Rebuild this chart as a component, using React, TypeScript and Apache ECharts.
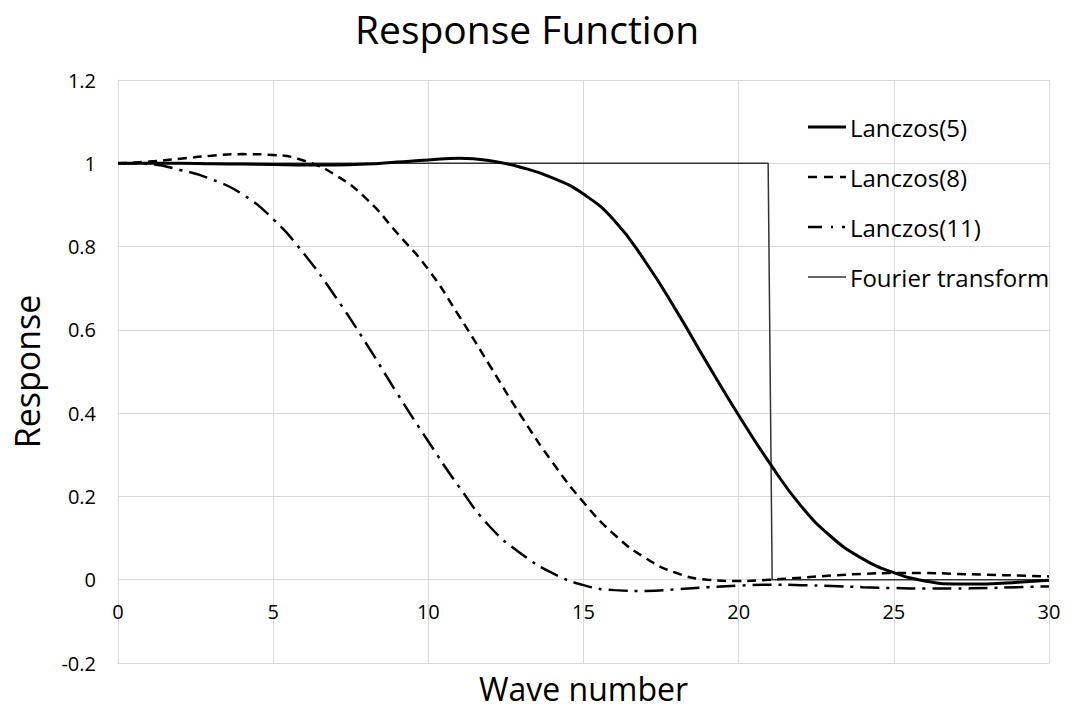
import React, { useEffect, useRef } from "react";
import * as echarts from "echarts";

const titleText = "Response Function";
const xAxisName = "Wave number";
const yAxisName = "Response";

const waveNumbers = [0, 1, 2, 3, 4, 5, 6, 7, 8, 9, 10, 11, 12, 13, 14, 15, 16, 17, 18, 19, 20, 21, 22, 23, 24, 25, 26, 27, 28, 29, 30];

const lanczos5 = [1, 1, 1, 0.999, 0.998, 0.997, 0.996, 0.996, 0.998, 1.003, 1.008, 1.012, 1.006, 0.99, 0.965, 0.926, 0.862, 0.763, 0.645, 0.518, 0.395, 0.28, 0.178, 0.102, 0.05, 0.017, -0.003, -0.01, -0.01, -0.006, -0.001];
const lanczos8 = [1, 1.004, 1.011, 1.018, 1.022, 1.02, 1.006, 0.972, 0.915, 0.832, 0.745, 0.632, 0.512, 0.392, 0.282, 0.186, 0.108, 0.052, 0.016, 0.0, -0.003, 0.0, 0.005, 0.01, 0.014, 0.016, 0.016, 0.014, 0.012, 0.01, 0.008];
const lanczos11 = [1, 0.998, 0.984, 0.962, 0.926, 0.866, 0.782, 0.68, 0.567, 0.447, 0.332, 0.222, 0.126, 0.062, 0.016, -0.013, -0.025, -0.027, -0.023, -0.018, -0.014, -0.012, -0.013, -0.015, -0.018, -0.02, -0.021, -0.021, -0.02, -0.018, -0.016];

const fourierX = [0, 20.95, 21.08, 30];
const fourierY = [1, 1, 0, 0];

const yTicks = [-0.2, 0, 0.2, 0.4, 0.6, 0.8, 1, 1.2];
const xTicks = [0, 5, 10, 15, 20, 25, 30];

const seriesNames = ["Lanczos(5)", "Lanczos(8)", "Lanczos(11)", "Fourier transform"];

const FONT = "Open Sans";

const lineStyles: { color: string; width: number; dash: number[] | null }[] = [
  { color: "#000", width: 3, dash: null },
  { color: "#000", width: 2.5, dash: [9, 6] },
  { color: "#000", width: 2.5, dash: [19, 7, 3, 7] },
  { color: "#333", width: 1.5, dash: null },
];
const legendDash: (number[] | null)[] = [null, [9, 7], [14, 9, 2, 9, 3, 10], null];

function pairs(xs: number[], ys: number[]) {
  return xs.map((x, i) => [x, ys[i]]);
}

export default function App() {
  const ref = useRef<HTMLDivElement>(null);
  useEffect(() => {
    if (!ref.current) return;
    const chart = echarts.init(ref.current, null, { renderer: "svg" });
    const gridColor = "#d9d9d9";

    const legendTop = 127;
    const legendStep = 50;
    const legendElements: any[] = [];
    seriesNames.forEach((name, i) => {
      const y = legendTop + i * legendStep;
      legendElements.push({
        type: "line",
        shape: { x1: 808, y1: y, x2: 846, y2: y },
        style: {
          stroke: lineStyles[i].color,
          lineWidth: lineStyles[i].width,
          lineDash: legendDash[i] || undefined,
        },
        z: 10,
      });
      legendElements.push({
        type: "text",
        x: 850,
        y: y,
        style: {
          text: name,
          fontFamily: FONT,
          fontSize: 24,
          fill: "#000",
          textAlign: "left",
          textVerticalAlign: "middle",
          verticalAlign: "middle",
        },
        z: 10,
      });
    });

    const makeSeries = (i: number, data: number[][], smooth: number | boolean) => ({
      name: seriesNames[i],
      type: "line",
      data,
      smooth,
      showSymbol: false,
      symbol: "none",
      lineStyle: {
        color: lineStyles[i].color,
        width: lineStyles[i].width,
        type: lineStyles[i].dash ? lineStyles[i].dash : "solid",
      },
      itemStyle: { color: lineStyles[i].color },
      z: 4 - i,
    });

    chart.setOption({
      animation: false,
      backgroundColor: "#ffffff",
      textStyle: { fontFamily: FONT },
      title: {
        text: titleText,
        left: 522,
        textAlign: "center",
        top: 4,
        textStyle: { fontFamily: FONT, fontSize: 39, fontWeight: "normal", color: "#000" },
      },
      grid: { left: 118, right: 28, top: 80, bottom: 48, containLabel: false, outerBoundsMode: "none" },
      graphic: legendElements,
      xAxis: {
        type: "value",
        min: xTicks[0],
        max: xTicks[xTicks.length - 1],
        interval: 5,
        name: xAxisName,
        nameLocation: "middle",
        nameGap: 9,
        nameTextStyle: { fontFamily: FONT, fontSize: 32, color: "#000", verticalAlign: "top" },
        axisLine: { onZero: false, lineStyle: { color: gridColor, width: 1 } },
        axisTick: { show: false },
        axisLabel: { fontFamily: FONT, fontSize: 20, color: "#000", margin: -62 },
        splitLine: { show: true, lineStyle: { color: gridColor, width: 1 } },
      },
      yAxis: {
        type: "value",
        min: yTicks[0],
        max: yTicks[yTicks.length - 1],
        interval: 0.2,
        name: yAxisName,
        nameLocation: "middle",
        nameGap: 74,
        nameRotate: 90,
        nameTextStyle: { fontFamily: FONT, fontSize: 34, color: "#000" },
        axisLine: { show: true, onZero: false, lineStyle: { color: gridColor, width: 1 } },
        axisTick: { show: false },
        axisLabel: {
          fontFamily: FONT,
          fontSize: 20,
          color: "#000",
          margin: 22,
          formatter: (v: number) => String(Math.round(v * 10) / 10),
        },
        splitLine: { show: true, lineStyle: { color: gridColor, width: 1 } },
      },
      series: [
        makeSeries(0, pairs(waveNumbers, lanczos5), 0.5),
        makeSeries(1, pairs(waveNumbers, lanczos8), 0.5),
        makeSeries(2, pairs(waveNumbers, lanczos11), 0.5),
        makeSeries(3, pairs(fourierX, fourierY), false),
      ],
    });
    return () => chart.dispose();
  }, []);
  return <div ref={ref} style={{ width: 1077, height: 711, position: "absolute", left: 0, top: 0 }} />;
}
